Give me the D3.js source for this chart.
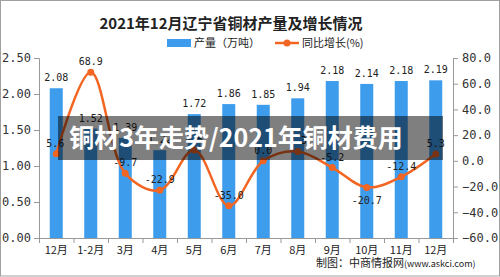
<!DOCTYPE html>
<html lang="zh">
<head>
<meta charset="utf-8">
<title>2021年12月辽宁省铜材产量及增长情况</title>
<script src="https://cdn.jsdelivr.net/npm/d3@7"></script>
<style>
  body { margin: 0; background: #fff; }
  svg text { font-family: "Noto Sans CJK SC", "DejaVu Sans", sans-serif; }
</style>
</head>
<body>
<script>
// data
var months = ['12月', '1-2月', '3月', '4月', '5月', '6月', '7月', '8月', '9月', '10月', '11月', '12月'];
var output = [2.08, 1.52, 1.39, 1.22, 1.72, 1.86, 1.85, 1.94, 2.18, 2.14, 2.18, 2.19];
var growth = [5.6, 68.9, -9.7, -22.9, 8.5, -35.0, 0.0, 7.3, -5.2, -20.7, -12.4, 5.3];
var leftTicks = [0, 0.5, 1, 1.5, 2, 2.5];
var rightTicks = [-60, -40, -20, 0, 20, 40, 60, 80];

var w = 500, h = 277;
var plotL = 39, plotR = 453, plotT = 58, plotB = 238;
var mono = '"DejaVu Sans Mono", monospace';

var svg = d3.select('body').append('svg')
    .attr('width', w)
    .attr('height', h);

// frame
svg.append('rect')
    .attr('x', 0.5).attr('y', 0.5)
    .attr('width', w - 1).attr('height', h - 1.5)
    .attr('fill', '#fff')
    .attr('stroke', '#a0a0a0');

var x = d3.scaleBand().domain(d3.range(months.length)).range([plotL, plotR]);
var yL = d3.scaleLinear().domain([0, 2.5]).range([plotB, plotT]);
var yR = d3.scaleLinear().domain([-60, 80]).range([plotB, plotT]);

// bars
svg.selectAll('rect.bar')
    .data(output)
    .enter()
    .append('rect')
    .attr('class', 'bar')
    .attr('x', function(d, i) { return x(i) + x.bandwidth() / 2 - 6.5; })
    .attr('y', function(d) { return yL(d); })
    .attr('width', 13)
    .attr('height', function(d) { return plotB - yL(d); })
    .attr('fill', '#3d9cec');

svg.selectAll('text.barlab')
    .data(output)
    .enter()
    .append('text')
    .attr('class', 'barlab')
    .attr('x', function(d, i) { return x(i) + x.bandwidth() / 2; })
    .attr('y', function(d) { return yL(d) - 7; })
    .attr('text-anchor', 'middle')
    .style('font-family', mono)
    .style('font-size', '10px')
    .attr('fill', '#222')
    .text(function(d) { return d.toFixed(2); });

// axes
var axL = d3.axisLeft(yL).tickValues(leftTicks).tickFormat(d3.format('.2f')).tickSize(5);
var axR = d3.axisRight(yR).tickValues(rightTicks).tickFormat(d3.format('.1f')).tickSize(5);

var gL = svg.append('g').attr('transform', 'translate(' + plotL + ',0)').call(axL);
var gR = svg.append('g').attr('transform', 'translate(' + plotR + ',0)').call(axR);
[gL, gR].forEach(function(g) {
    g.select('.domain').attr('stroke', '#999');
    g.selectAll('.tick line').attr('stroke', '#999');
    g.selectAll('.tick text')
        .style('font-family', mono)
        .style('font-size', '12px')
        .attr('fill', '#333');
});
gR.selectAll('.tick text').attr('x', 9);
gL.selectAll('.tick text').attr('x', -8);

// x axis
svg.append('line')
    .attr('x1', plotL).attr('x2', plotR)
    .attr('y1', plotB + 0.5).attr('y2', plotB + 0.5)
    .attr('stroke', '#999');
svg.selectAll('line.xtick')
    .data(d3.range(months.length + 1))
    .enter()
    .append('line')
    .attr('class', 'xtick')
    .attr('x1', function(i) { return plotL + i * x.step() + 0.5; })
    .attr('x2', function(i) { return plotL + i * x.step() + 0.5; })
    .attr('y1', plotB)
    .attr('y2', plotB + 5)
    .attr('stroke', '#999');
svg.selectAll('text.xlab')
    .data(months)
    .enter()
    .append('text')
    .attr('class', 'xlab')
    .attr('x', function(d, i) { return x(i) + x.bandwidth() / 2; })
    .attr('y', 254)
    .attr('text-anchor', 'middle')
    .style('font-size', '11px')
    .attr('fill', '#222')
    .text(function(d) { return d; });

// growth line
var line = d3.line()
    .x(function(d, i) { return x(i) + x.bandwidth() / 2; })
    .y(function(d) { return yR(d); })
    .curve(d3.curveCatmullRom.alpha(0.5));

svg.append('path')
    .datum(growth)
    .attr('d', line)
    .attr('fill', 'none')
    .attr('stroke', '#f26522')
    .attr('stroke-width', 2.5);

svg.selectAll('circle.dot')
    .data(growth)
    .enter()
    .append('circle')
    .attr('class', 'dot')
    .attr('cx', function(d, i) { return x(i) + x.bandwidth() / 2; })
    .attr('cy', function(d) { return yR(d); })
    .attr('r', 3.5)
    .attr('fill', '#f26522');

svg.selectAll('text.linelab')
    .data(growth)
    .enter()
    .append('text')
    .attr('class', 'linelab')
    .attr('x', function(d, i) { return x(i) + x.bandwidth() / 2 + (i == 0 ? -1 : 0); })
    .attr('y', function(d, i) { return i == 9 ? yR(d) + 17 : yR(d) - 7; })
    .attr('text-anchor', 'middle')
    .style('font-family', mono)
    .style('font-size', '10px')
    .attr('fill', '#222')
    .text(function(d) { return d.toFixed(1); });

// title
svg.append('text')
    .attr('x', 231).attr('y', 29)
    .attr('text-anchor', 'middle')
    .style('font-size', '15px')
    .style('font-weight', 'bold')
    .attr('fill', '#222')
    .text('2021年12月辽宁省铜材产量及增长情况');

// legend
svg.append('rect')
    .attr('x', 167).attr('y', 39)
    .attr('width', 24).attr('height', 8)
    .attr('fill', '#3d9cec');
svg.append('text')
    .attr('x', 194).attr('y', 47)
    .style('font-size', '11px')
    .attr('fill', '#222')
    .text('产量（万吨）');
svg.append('line')
    .attr('x1', 275).attr('x2', 299)
    .attr('y1', 43).attr('y2', 43)
    .attr('stroke', '#f26522')
    .attr('stroke-width', 2.5);
svg.append('circle')
    .attr('cx', 287).attr('cy', 43).attr('r', 3.5)
    .attr('fill', '#f26522');
svg.append('text')
    .attr('x', 302).attr('y', 47)
    .style('font-size', '11px')
    .attr('fill', '#222')
    .text('同比增长(%)');

// source
var src = svg.append('text')
    .attr('x', 316).attr('y', 267)
    .style('font-size', '11px')
    .attr('fill', '#222');
src.append('tspan').text('制图：中商情报网');
src.append('tspan').style('font-size', '9px').text('(www.askci.com)');

// overlay caption band
svg.append('rect')
    .attr('x', 58).attr('y', 116)
    .attr('width', 385).attr('height', 44)
    .attr('fill', 'rgba(0,0,0,0.5)');
svg.append('text')
    .attr('x', 236).attr('y', 147)
    .attr('text-anchor', 'middle')
    .style('font-size', '25px')
    .style('font-weight', 'bold')
    .attr('fill', '#fff')
    .text('铜材3年走势/2021年铜材费用');
</script>
</body>
</html>
